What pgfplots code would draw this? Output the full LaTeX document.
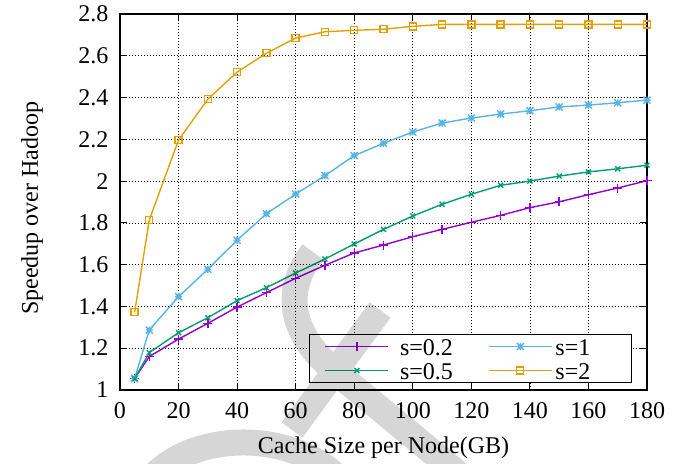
\documentclass[border=0pt]{standalone}
\usepackage{fontspec}
\setmainfont{Liberation Serif}
\usepackage{pgfplots}
\usepackage{pgfplotstable}
\pgfplotsset{compat=1.18}

\definecolor{gpPurple}{HTML}{9400D3}
\definecolor{gpGreen}{HTML}{009E73}
\definecolor{gpBlue}{HTML}{56B4E9}
\definecolor{gpOrange}{HTML}{E69F00}

% gnuplot-style "*" point: a plus and a cross on top of each other
\pgfdeclareplotmark{gpstar}{%
  \pgfpathmoveto{\pgfqpoint{-\pgfplotmarksize}{0pt}}%
  \pgfpathlineto{\pgfqpoint{\pgfplotmarksize}{0pt}}%
  \pgfpathmoveto{\pgfqpoint{0pt}{-\pgfplotmarksize}}%
  \pgfpathlineto{\pgfqpoint{0pt}{\pgfplotmarksize}}%
  \pgfpathmoveto{\pgfqpoint{-\pgfplotmarksize}{-\pgfplotmarksize}}%
  \pgfpathlineto{\pgfqpoint{\pgfplotmarksize}{\pgfplotmarksize}}%
  \pgfpathmoveto{\pgfqpoint{-\pgfplotmarksize}{\pgfplotmarksize}}%
  \pgfpathlineto{\pgfqpoint{\pgfplotmarksize}{-\pgfplotmarksize}}%
  \pgfusepathqstroke}

% speedup over Hadoop for each skew value s, by cache size per node (GB)
\pgfplotstableread{
x    s02    s05    s1     s2
5    1.055  1.055  1.055  1.372
10   1.160  1.179  1.287  1.814
20   1.244  1.274  1.447  2.197
30   1.319  1.346  1.578  2.392
40   1.397  1.428  1.717  2.522
50   1.466  1.490  1.844  2.612
60   1.535  1.560  1.938  2.685
70   1.597  1.627  2.026  2.715
80   1.656  1.699  2.122  2.722
90   1.694  1.769  2.181  2.727
100  1.734  1.833  2.235  2.741
110  1.769  1.889  2.278  2.750
120  1.803  1.937  2.302  2.750
130  1.836  1.980  2.321  2.750
140  1.873  2.000  2.337  2.750
150  1.901  2.024  2.355  2.750
160  1.935  2.044  2.364  2.750
170  1.967  2.059  2.375  2.750
180  2.002  2.076  2.388  2.750
}\speedup

\begin{document}
\begin{tikzpicture}[font=\fontsize{24bp}{28bp}\selectfont]
\begin{axis}[
  at={(0,0)}, anchor=south west,
  scale only axis, width=527bp, height=376bp,
  xmin=0, xmax=180, ymin=1, ymax=2.8,
  xtick={0,20,40,60,80,100,120,140,160,180},
  xticklabels={0,20,40,60,80,100,120,140,160,180},
  ytick={1,1.2,1.4,1.6,1.8,2,2.2,2.4,2.6,2.8},
  yticklabels={1,1.2,1.4,1.6,1.8,2,2.2,2.4,2.6,2.8},
  xticklabel style={yshift=-9bp},
  yticklabel style={xshift=-8bp},
  tick align=inside, major tick length=7bp,
  tick style={black, line width=0.8bp},
  axis line style={black, line width=1.2bp},
  grid=major,
  grid style={black, line width=0.6bp, dash pattern=on 1bp off 2bp},
  xlabel={Cache Size per Node(GB)},
  ylabel={Speedup over Hadoop},
  xlabel style={at={(axis description cs:0.5,-0.154)}, anchor=center},
  ylabel style={at={(axis description cs:-0.167,0.484)}, anchor=center},
  clip=false,
  every axis plot/.append style={line width=1.4bp},
  legend columns=2,
  legend cell align=left,
  legend image code/.code={%
    \draw[mark repeat=2, mark phase=2, #1]
      plot coordinates {(0bp,0bp) (31.5bp,0bp) (63bp,0bp)};},
  legend style={
    at={(0.9715,0.0186)}, anchor=south east,
    draw=black, line width=1bp, fill=white,
    inner xsep=15bp, inner ysep=0bp,
    row sep=0bp,
    nodes={inner ysep=3.5bp, text height=17bp, text depth=0bp},
    /tikz/every even column/.append style={column sep=20bp},
  },
]
\addplot[color=gpPurple, mark=+, mark size=4.5bp, mark options={solid}]
  table[x=x, y=s02] {\speedup};
\addlegendentry{\makebox[75bp][l]{\hspace{9bp}s=0.2}}
\addplot[color=gpBlue, mark=gpstar, mark size=3.5bp, mark options={solid}]
  table[x=x, y=s1] {\speedup};
\addlegendentry{\makebox[60bp][l]{\hspace{1bp}s=1}}
\addplot[color=gpGreen, mark=x, mark size=3.5bp, mark options={solid}]
  table[x=x, y=s05] {\speedup};
\addlegendentry{\makebox[75bp][l]{\hspace{9bp}s=0.5}}
\addplot[color=gpOrange, mark=square, mark size=3.5bp, mark options={solid}]
  table[x=x, y=s2] {\speedup};
\addlegendentry{\makebox[60bp][l]{\hspace{1bp}s=2}}
\end{axis}

% light grey stamp lying over the lower middle of the figure
\begin{scope}[x=1bp, y=-1bp, shift={(-120bp,390bp)}]
  \clip (0,0) rectangle (684,464);
  \draw[black, draw opacity=0.16, line width=26bp]
    (313,252) .. controls (282,292) and (290,335) .. (338,374) -- (490,500)
    (380,310) -- (292,430)
    (150,480) .. controls (190,432) and (290,428) .. (340,480);
\end{scope}

\pgfresetboundingbox
\path[use as bounding box] (-120bp,-74bp) rectangle (564bp,390bp);
\end{tikzpicture}
\end{document}
